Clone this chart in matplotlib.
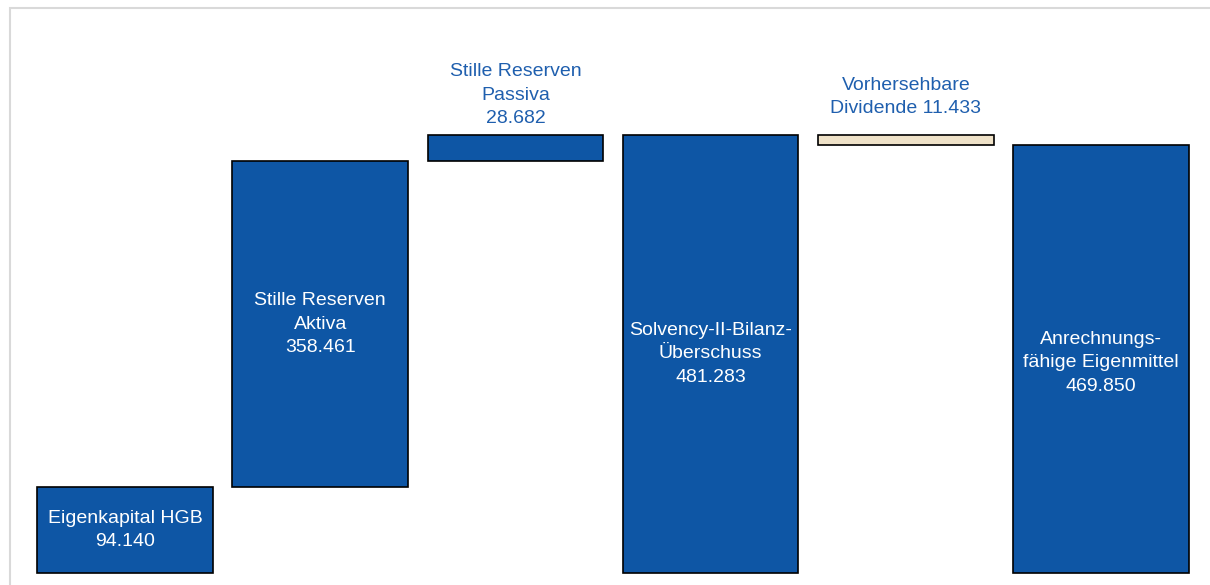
import matplotlib.pyplot as plt
from matplotlib.patches import Rectangle

plt.rcParams['font.family'] = ['Liberation Sans', 'DejaVu Sans']

# Waterfall: Eigenkapital HGB -> Solvency-II Eigenmittel (in TEUR)
labels = ["Eigenkapital HGB", "Stille Reserven\nAktiva", "Stille Reserven\nPassiva",
          "Solvency-II-Bilanz-\nÜberschuss", "Vorhersehbare\nDividende", "Anrechnungs-\nfähige Eigenmittel"]
values = [94.140, 358.461, 28.682, 481.283, -11.433, 469.850]
value_texts = ["94.140", "358.461", "28.682", "481.283", "11.433", "469.850"]
is_total = [True, False, False, True, False, True]
label_inside = [True, True, False, True, False, True]

BLUE = "#0E56A5"
BEIGE = "#EFE2C8"
TEXT_BLUE = "#1F5FAE"
FONT_SIZE = 14

fig = plt.figure(figsize=(12.10, 5.85), dpi=100)
# light grey frame around the chart area
fig.patches.append(Rectangle((10 / 1210, -0.1), 1.2, (585 - 8) / 585 + 0.1, transform=fig.transFigure,
                             fill=False, edgecolor="#D9D9D9", linewidth=1.5))

ax = fig.add_axes([27.4 / 1210, 0, 1171.2 / 1210, 1])
ax.set_xlim(-0.5, 5.5)
ax.set_ylim(-13.2, 629.6)
ax.axis("off")

running = 0.0
for i, (lab, val, txt) in enumerate(zip(labels, values, value_texts)):
    if is_total[i]:
        bottom, height = 0.0, val
        running = val
    else:
        if val >= 0:
            bottom, height = running, val
        else:
            bottom, height = running + val, -val
        running += val
    color = BEIGE if val < 0 else BLUE
    ax.bar(i, height, bottom=bottom, width=0.9, color=color, edgecolor="black", linewidth=1.2)

    if lab.startswith("Vorhersehbare"):
        full = "Vorhersehbare\nDividende " + txt
        ypos = 523
    else:
        full = lab + "\n" + txt
        ypos = 525
    if label_inside[i]:
        ax.text(i, bottom + height / 2 - (4 if i == 5 else 0), full, ha="center", va="center",
                color="white", fontsize=FONT_SIZE, linespacing=1.5)
    else:
        ax.text(i, ypos, full, ha="center", va="center", color=TEXT_BLUE,
                fontsize=FONT_SIZE, linespacing=1.5)

plt.savefig("out.png", dpi=100)
